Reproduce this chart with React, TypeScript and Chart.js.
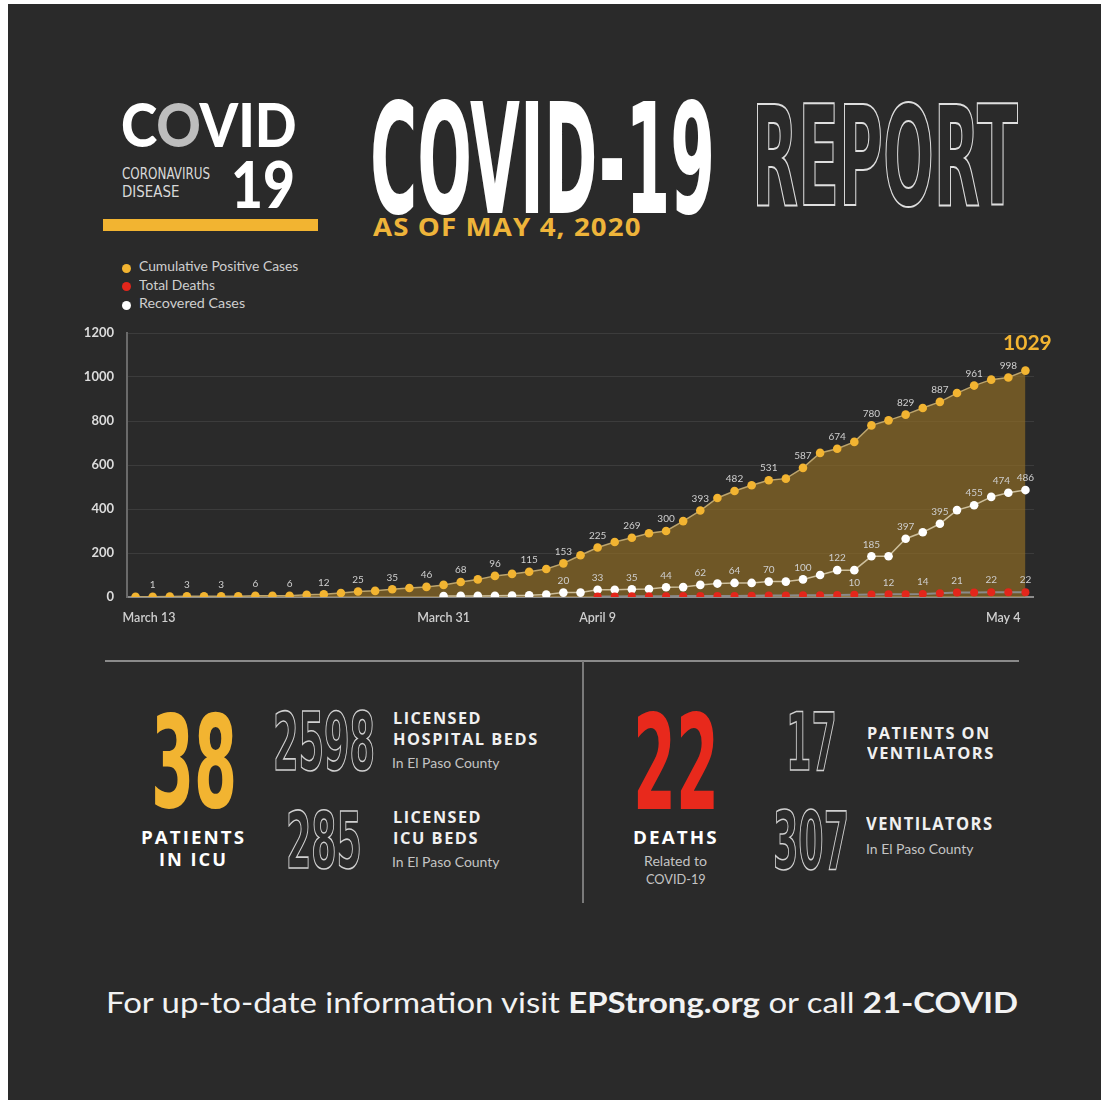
import React, { useEffect, useLayoutEffect, useRef, useState } from "react";
import { Chart, registerables } from "chart.js";

Chart.register(...registerables);

// ---------------- DATA ----------------
const CATEGORIES = [
  "Mar 13", "Mar 14", "Mar 15", "Mar 16", "Mar 17", "Mar 18", "Mar 19", "Mar 20", "Mar 21", "Mar 22",
  "Mar 23", "Mar 24", "Mar 25", "Mar 26", "Mar 27", "Mar 28", "Mar 29", "Mar 30", "Mar 31",
  "Apr 1", "Apr 2", "Apr 3", "Apr 4", "Apr 5", "Apr 6", "Apr 7", "Apr 8", "Apr 9", "Apr 10",
  "Apr 11", "Apr 12", "Apr 13", "Apr 14", "Apr 15", "Apr 16", "Apr 17", "Apr 18", "Apr 19", "Apr 20",
  "Apr 21", "Apr 22", "Apr 23", "Apr 24", "Apr 25", "Apr 26", "Apr 27", "Apr 28", "Apr 29", "Apr 30",
  "May 1", "May 2", "May 3", "May 4",
];

const SERIES_NAMES = ["Cumulative Positive Cases", "Total Deaths", "Recovered Cases"];
const SERIES_COLORS = ["#f2b431", "#e3261b", "#ffffff"];

const CASES = [
  1, 1, 2, 3, 3, 3, 3, 6, 6, 6,
  10, 12, 18, 25, 28, 35, 41, 46, 55, 68,
  80, 96, 105, 115, 127, 153, 190, 225, 250, 269,
  290, 300, 345, 393, 450, 482, 508, 531, 538, 587,
  655, 674, 705, 780, 803, 829, 859, 887, 927, 961,
  988, 998, 1029,
];

const RECOVERED = [
  null, null, null, null, null, null, null, null, null, null,
  null, null, null, null, null, null, null, null, 4, 5,
  5, 6, 7, 8, 11, 20, 20, 33, 33, 35,
  36, 44, 45, 55, 61, 64, 64, 70, 70, 80,
  100, 122, 122, 185, 185, 265, 294, 333, 395, 417,
  455, 474, 486,
];

const DEATHS = [
  null, null, null, null, null, null, null, null, null, null,
  null, null, null, null, null, null, null, null, null, null,
  null, null, null, null, null, null, null, 2, 2, 3,
  3, 3, 4, 4, 5, 5, 6, 7, 7, 8,
  8, 9, 10, 11, 12, 13, 14, 17, 21, 21,
  22, 22, 22,
];

const CASES_LABELS = [
  "", "1", "", "3", "", "3", "", "6", "", "6",
  "", "12", "", "25", "", "35", "", "46", "", "68",
  "", "96", "", "115", "", "153", "", "225", "", "269",
  "", "300", "", "393", "", "482", "", "531", "", "587",
  "", "674", "", "780", "", "829", "", "887", "", "961",
  "", "998", "1029",
];

const RECOVERED_LABELS = [
  "", "", "", "", "", "", "", "", "", "",
  "", "", "", "", "", "", "", "", "", "",
  "", "", "", "", "", "20", "", "33", "", "35",
  "", "44", "", "62", "", "64", "", "70", "", "100",
  "", "122", "", "185", "", "397", "", "395", "", "455",
  "", "474", "486",
];

const DEATHS_LABELS = [
  "", "", "", "", "", "", "", "", "", "",
  "", "", "", "", "", "", "", "", "", "",
  "", "", "", "", "", "", "", "", "", "",
  "", "", "", "", "", "", "", "", "", "",
  "", "", "10", "", "12", "", "14", "", "21", "",
  "22", "", "22",
];

const X_TICK_CATEGORIES = ["Mar 13", "Mar 31", "Apr 9", "May 4"];
const X_TICK_LABELS = ["March 13", "March 31", "April 9", "May 4"];
const Y_TICKS = [0, 200, 400, 600, 800, 1000, 1200];

// ---------------- TEXT HELPERS ----------------
type FontKey = "cond" | "wide" | "lato";
const FONTS: Record<FontKey, { family: string; capTop: number; capH: number }> = {
  cond: { family: '"DejaVu Sans Condensed", "Liberation Sans Narrow", sans-serif', capTop: 0.117, capH: 0.729 },
  wide: { family: '"Open Sans", "DejaVu Sans", sans-serif', capTop: 0.174, capH: 0.714 },
  lato: { family: 'Lato, "Open Sans", sans-serif', capTop: 0.17, capH: 0.717 },
};

function Txt(props: {
  x: number; y: number; cap: number; w?: number; font?: FontKey; weight?: number | string;
  color?: string; stroke?: string; ls?: number; children: React.ReactNode;
}) {
  const { x, y, cap, w, font = "lato", weight = 400, color = "#ffffff", stroke, ls = 0, children } = props;
  const ref = useRef<HTMLSpanElement>(null);
  const [sx, setSx] = useState(1);
  const f = FONTS[font];
  const size = cap / f.capH;
  useLayoutEffect(() => {
    if (ref.current && w) {
      const nat = ref.current.offsetWidth - ls;
      if (nat > 0) setSx(w / nat);
    }
  }, [w, ls]);
  return (
    <span
      ref={ref}
      style={{
        position: "absolute",
        left: x,
        top: y - f.capTop * size,
        fontFamily: f.family,
        fontWeight: weight as any,
        fontSize: size,
        lineHeight: `${size}px`,
        color: stroke ? "transparent" : color,
        WebkitTextStroke: stroke,
        whiteSpace: "nowrap",
        letterSpacing: ls,
        transform: `scaleX(${sx})`,
        transformOrigin: "0 0",
      } as React.CSSProperties}
    >
      {children}
    </span>
  );
}

// ---------------- CHART ----------------
const labelPlugin = {
  id: "pointLabels",
  afterDatasetsDraw(chart: any) {
    const ctx = chart.ctx;
    const sets = [
      { ds: 0, labels: CASES_LABELS },
      { ds: 1, labels: RECOVERED_LABELS },
      { ds: 2, labels: DEATHS_LABELS },
    ];
    ctx.save();
    ctx.textAlign = "center";
    ctx.textBaseline = "middle";
    sets.forEach(({ ds, labels }) => {
      const meta = chart.getDatasetMeta(ds);
      labels.forEach((t, i) => {
        if (!t) return;
        const el = meta.data[i];
        if (!el || isNaN(el.y)) return;
        if (ds === 0 && i === labels.length - 1) {
          ctx.font = "bold 21px Lato, sans-serif";
          ctx.fillStyle = SERIES_COLORS[0];
          ctx.fillText(t, el.x + 2, el.y - 27);
        } else {
          const crowded = ds === 1 && !!labels[i + 1];
          ctx.font = "10px Lato, sans-serif";
          ctx.fillStyle = "#cfcfcf";
          ctx.fillText(t, el.x - (crowded ? 7 : 0), el.y - 12);
        }
      });
    });
    // x tick labels
    const xs = chart.scales.x;
    const area = chart.chartArea;
    ctx.font = "600 12.5px Lato, sans-serif";
    ctx.fillStyle = "#cfcfcf";
    X_TICK_CATEGORIES.forEach((c, k) => {
      const idx = CATEGORIES.indexOf(c);
      const px = xs.getPixelForValue(idx);
      if (k === 0) {
        ctx.textAlign = "left";
        ctx.fillText(X_TICK_LABELS[k], px - 13, area.bottom + 21);
      } else if (k === X_TICK_CATEGORIES.length - 1) {
        ctx.textAlign = "right";
        ctx.fillText(X_TICK_LABELS[k], px - 5, area.bottom + 21);
      } else {
        ctx.textAlign = "center";
        ctx.fillText(X_TICK_LABELS[k], px, area.bottom + 21);
      }
    });
    ctx.restore();
  },
};

function CovidChart() {
  const ref = useRef<HTMLCanvasElement>(null);
  useEffect(() => {
    if (!ref.current) return;
    const chart = new Chart(ref.current, {
      type: "line",
      data: {
        labels: CATEGORIES,
        datasets: [
          {
            label: SERIES_NAMES[0],
            data: CASES,
            fill: "origin",
            backgroundColor: "rgba(154,115,35,0.62)",
            borderColor: "#bca46c",
            borderWidth: 1.5,
            pointRadius: 4.3,
            pointBackgroundColor: SERIES_COLORS[0],
            pointBorderWidth: 0,
            tension: 0,
            order: 3,
          },
          {
            label: SERIES_NAMES[2],
            data: RECOVERED,
            fill: false,
            borderColor: "#cdbf9c",
            borderWidth: 1.5,
            pointRadius: 4.3,
            pointBackgroundColor: SERIES_COLORS[2],
            pointBorderWidth: 0,
            tension: 0,
            order: 2,
          },
          {
            label: SERIES_NAMES[1],
            data: DEATHS,
            fill: false,
            borderColor: "#8a8a8a",
            borderWidth: 2,
            pointRadius: 4,
            pointBackgroundColor: SERIES_COLORS[1],
            pointBorderWidth: 0,
            tension: 0,
            order: 1,
          },
        ] as any,
      },
      options: {
        animation: false,
        responsive: false,
        layout: { padding: { top: 13, right: 26, bottom: 43, left: 0 } },
        plugins: { legend: { display: false }, tooltip: { enabled: false } },
        scales: {
          x: { display: false, offset: true },
          y: {
            min: 0,
            max: 1200,
            afterBuildTicks: (s: any) => { s.ticks = Y_TICKS.map((v) => ({ value: v })); },
            ticks: {
              color: "#dcdcdc",
              font: { family: "Lato", size: 13, weight: "bold" },
              padding: 2,
              callback: (v: any) => String(v),
            },
            grid: {
              color: (c: any) => (c.tick && c.tick.value === 0 ? "#8c8c8c" : "#3c3c3c"),
              lineWidth: (c: any) => (c.tick && c.tick.value === 0 ? 2 : 1),
              drawTicks: true,
              tickLength: 11,
              tickColor: "rgba(0,0,0,0)",
            },
            border: { color: "#6a6a6a", width: 2 },
            afterFit: (s: any) => { s.width = 87; },
          },
        },
      } as any,
      plugins: [labelPlugin],
    });
    return () => chart.destroy();
  }, []);
  return <canvas ref={ref} width={1020} height={320} style={{ position: "absolute", left: 40, top: 320 }} />;
}

// ---------------- APP ----------------
export default function App() {
  const legendY = [268, 286.5, 305];
  const legendW = [159, 76, 106];
  const legendOrder = [0, 1, 2];
  const sub = "#c4c4c4";
  return (
    <div style={{ position: "absolute", left: 0, top: 0, width: 1109, height: 1105, background: "#ffffff", overflow: "hidden" }}>
      <div style={{ position: "absolute", left: 8, top: 4, width: 1093, height: 1096, background: "#2a2a2a" }} />

      {/* Logo */}
      <Txt x={121} y={105} cap={43} w={176} font="lato" weight={900}>
        C<span style={{ color: "#bdbdbd" }}>O</span>VID
      </Txt>
      <Txt x={122} y={168} cap={12} w={88} font="cond" color="#d9d9d9">CORONAVIRUS</Txt>
      <Txt x={122} y={186} cap={12} w={57} font="cond" color="#d9d9d9">DISEASE</Txt>
      <Txt x={231} y={161} cap={47} w={64} font="lato" weight={900}>19</Txt>
      <div style={{ position: "absolute", left: 103, top: 219, width: 215, height: 12, background: "#f2b431" }} />

      {/* Title */}
      <Txt x={370} y={101} cap={112} w={345} font="cond" weight={700}>COVID-19</Txt>
      <Txt x={752} y={103} cap={102} w={266} font="cond" weight={700} stroke="2px #dedede">REPORT</Txt>
      <Txt x={373} y={218} cap={18} w={267} font="wide" weight={700} color="#eeb43a" ls={1}>AS OF MAY 4, 2020</Txt>

      {/* Legend */}
      {legendOrder.map((k, i) => (
        <React.Fragment key={k}>
          <div style={{ position: "absolute", left: 122, top: legendY[i] - 4.5, width: 9, height: 9, borderRadius: 4.5, background: SERIES_COLORS[k] }} />
          <Txt x={139} y={legendY[i] - 4.5} cap={9} w={legendW[i]} font="lato" color="#cfcfcf">{SERIES_NAMES[k]}</Txt>
        </React.Fragment>
      ))}

      <CovidChart />

      {/* Dividers */}
      <div style={{ position: "absolute", left: 105, top: 660, width: 914, height: 2, background: "#8a8a8a" }} />
      <div style={{ position: "absolute", left: 582, top: 661, width: 2, height: 242, background: "#7a7a7a" }} />

      {/* Left stats */}
      <Txt x={151} y={713} cap={94} w={86} font="cond" weight={700} color="#f2b431">38</Txt>
      <Txt x={141} y={831} cap={13} w={103} font="wide" weight={700} ls={2}>PATIENTS</Txt>
      <Txt x={159} y={853} cap={13} w={67} font="wide" weight={700} ls={2}>IN ICU</Txt>
      <Txt x={273} y={712} cap={58} w={102} font="cond" weight={700} stroke="1.6px #d0d0d0">2598</Txt>
      <Txt x={393} y={713} cap={11.5} w={88} font="wide" weight={700} ls={1.5} color="#f0f0f0">LICENSED</Txt>
      <Txt x={393} y={733.5} cap={11.5} w={144} font="wide" weight={700} ls={1.5} color="#f0f0f0">HOSPITAL BEDS</Txt>
      <Txt x={392} y={760.5} cap={9} w={108} font="lato" color={sub}>In El Paso County</Txt>
      <Txt x={286} y={811} cap={57} w={76} font="cond" weight={700} stroke="1.6px #d0d0d0">285</Txt>
      <Txt x={393} y={812} cap={11.5} w={88} font="wide" weight={700} ls={1.5} color="#f0f0f0">LICENSED</Txt>
      <Txt x={393} y={832.5} cap={11.5} w={85} font="wide" weight={700} ls={1.5} color="#f0f0f0">ICU BEDS</Txt>
      <Txt x={392} y={859.5} cap={9} w={108} font="lato" color={sub}>In El Paso County</Txt>

      {/* Right stats */}
      <Txt x={633} y={713} cap={96} w={86} font="cond" weight={700} color="#e8291c">22</Txt>
      <Txt x={633} y={831.5} cap={13} w={84} font="wide" weight={700} ls={2}>DEATHS</Txt>
      <Txt x={644} y={858.5} cap={9} w={63} font="lato" color={sub}>Related to</Txt>
      <Txt x={646} y={876} cap={9} w={60} font="lato" color={sub}>COVID-19</Txt>
      <Txt x={786} y={712} cap={58} w={51} font="cond" weight={700} stroke="1.6px #d0d0d0">17</Txt>
      <Txt x={867} y={727.5} cap={12} w={122} font="wide" weight={700} ls={1.5} color="#f0f0f0">PATIENTS ON</Txt>
      <Txt x={867} y={747.5} cap={12} w={126} font="wide" weight={700} ls={1.5} color="#f0f0f0">VENTILATORS</Txt>
      <Txt x={773} y={810} cap={59} w={76} font="cond" weight={700} stroke="1.6px #d0d0d0">307</Txt>
      <Txt x={866} y={818.5} cap={12.5} w={126} font="wide" weight={700} ls={1.5} color="#f0f0f0">VENTILATORS</Txt>
      <Txt x={866} y={846} cap={9} w={108} font="lato" color={sub}>In El Paso County</Txt>

      {/* Footer */}
      <Txt x={106} y={992} cap={21} w={912} font="lato" color="#f2f2f2">
        For up-to-date information visit <b>EPStrong.org</b> or call <b>21-COVID</b>
      </Txt>
    </div>
  );
}
